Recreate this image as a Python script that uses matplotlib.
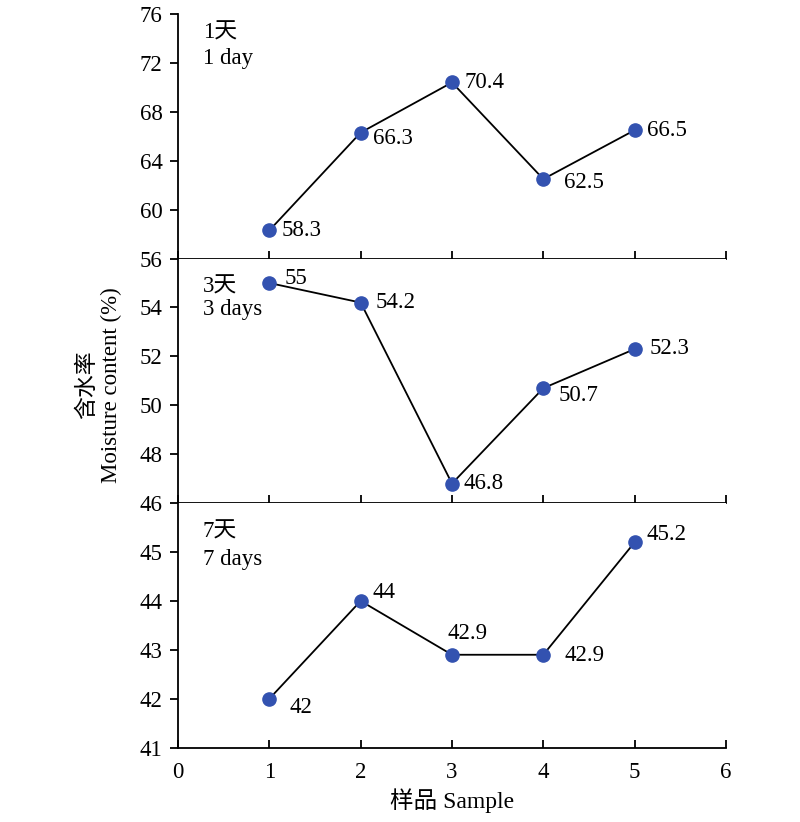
import matplotlib
matplotlib.use("Agg")
import matplotlib.pyplot as plt

plt.rcParams['font.family'] = ['Liberation Serif', 'Noto Sans CJK SC']
plt.rcParams['font.size'] = 16.5

# données
samples = [1, 2, 3, 4, 5]
day1 = [58.3, 66.3, 70.4, 62.5, 66.5]
day3 = [55, 54.2, 46.8, 50.7, 52.3]
day7 = [42, 44, 42.9, 42.9, 45.2]
labels1 = ['58.3', '66.3', '70.4', '62.5', '66.5']
labels3 = ['55', '54.2', '46.8', '50.7', '52.3']
labels7 = ['42', '44', '42.9', '42.9', '45.2']
titles_cn = ['1天', '3天', '7天']
titles_en = ['1 day', '3 days', '7 days']
xticks = [0, 1, 2, 3, 4, 5, 6]

# décalages des étiquettes (pixels)
off1 = [(12, 0), (12, -6), (12, 0), (21, -3), (12, 0)]
off3 = [(15, 5), (15, 0), (12, 0), (15, -7), (15, 1)]
off7 = [(20, -9), (12, 8), (-4, 21), (21, -1), (12, 8)]
# position verticale des titres (fraction des axes)
title_y = [(0.922, 0.818), (0.882, 0.790), (0.882, 0.771)]

fig, axes = plt.subplots(3, 1, figsize=(8, 8.22), dpi=100, sharex=True)
fig.subplots_adjust(left=0.2225, right=0.9075, bottom=0.0904, top=0.983, hspace=0)

cfg = [
    (day1, labels1, off1, (56, 76), [60, 64, 68, 72, 76]),
    (day3, labels3, off3, (46, 56), [48, 50, 52, 54, 56]),
    (day7, labels7, off7, (41, 46), [41, 42, 43, 44, 45, 46]),
]

for i, (ax, (vals, labs, offs, ylim, yt)) in enumerate(zip(axes, cfg)):
    ax.plot(samples, vals, color='black', lw=1.3, zorder=2)
    ax.plot(samples, vals, 'o', color='#3352B0', ms=9.5, zorder=3)
    for x, y, t, o in zip(samples, vals, labs, offs):
        ax.annotate(t, (x, y), xytext=o, textcoords='offset pixels',
                    ha='left', va='center', fontsize=16.5)
    ax.set_ylim(*ylim)
    ax.set_yticks(yt)
    ax.set_xlim(0, 6)
    ax.set_xticks(xticks)
    ax.spines['top'].set_visible(False)
    ax.spines['right'].set_visible(False)
    for s in ax.spines.values():
        s.set_linewidth(1.3)
    ax.tick_params(axis='y', direction='out', length=6, width=1.3, labelsize=16.5, pad=5)
    ax.tick_params(axis='x', direction='in', length=6, width=1.3, labelsize=16.5, pad=10)
    ax.text(0.045, title_y[i][0], titles_cn[i], transform=ax.transAxes,
            ha='left', va='center', fontsize=16.5)
    ax.text(0.045, title_y[i][1], titles_en[i], transform=ax.transAxes,
            ha='left', va='center', fontsize=16.5)

axes[2].set_xlabel('样品 Sample', fontsize=17, labelpad=4)
fig.text(0.124, 0.532, '含水率\nMoisture content (%)', rotation=90,
         ha='center', va='center', fontsize=16.5, linespacing=1.15)

plt.savefig('out.png', dpi=100)
